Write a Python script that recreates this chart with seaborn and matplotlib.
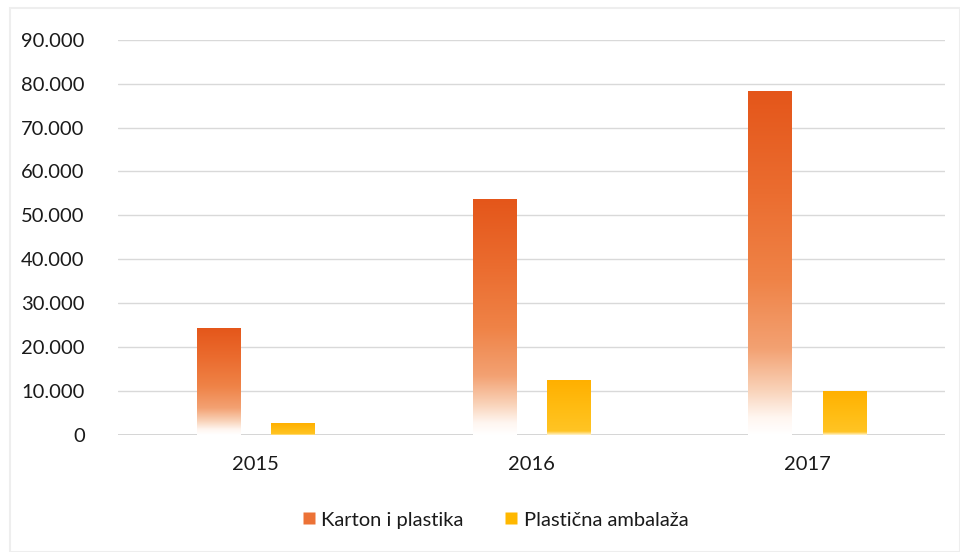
import numpy as np
import pandas as pd
import matplotlib
matplotlib.use("Agg")
import matplotlib.pyplot as plt
import seaborn as sns
from matplotlib.colors import LinearSegmentedColormap
from matplotlib.ticker import FuncFormatter
from matplotlib.lines import Line2D

years = ["2015", "2016", "2017"]
series_names = ["Karton i plastika", "Plastična ambalaža"]
karton = [24400, 53800, 78400]
plasticna = [2700, 12500, 10100]
y_ticks = [0, 10000, 20000, 30000, 40000, 50000, 60000, 70000, 80000, 90000]

df = pd.DataFrame({
    "Godina": years * 2,
    "Serija": [series_names[0]] * 3 + [series_names[1]] * 3,
    "Vrijednost": karton + plasticna,
})

sns.set_theme(style="white")
plt.rcParams["font.family"] = ["Lato", "DejaVu Sans"]

fig = plt.figure(figsize=(9.6, 5.52), dpi=100)
ax = fig.add_axes([0.123, 0.212, 0.861, 0.716])

colors = {series_names[0]: "#E85D1E", series_names[1]: "#FFB50A"}
sns.barplot(data=df, x="Godina", y="Vrijednost", hue="Serija", palette=colors,
            width=0.54, gap=0.42, ax=ax, legend=False, saturation=1, zorder=3)

ax.set_ylim(0, 90000)
ax.set_xlim(-0.5, 2.5)
ax.set_yticks(y_ticks)
ax.yaxis.set_major_formatter(FuncFormatter(lambda v, p: f"{int(v):,}".replace(",", ".")))
ax.grid(axis="y", color="#D9D9D9", linewidth=1.0, zorder=0)
ax.grid(axis="x", visible=False)
for s in ax.spines.values():
    s.set_visible(False)
ax.axhline(0, color="#D0D0D0", linewidth=1.2, zorder=2)
ax.set_xlabel("")
ax.set_ylabel("")
ax.tick_params(axis="y", labelsize=14.5, colors="#1A1A1A", length=0, pad=24)
ax.tick_params(axis="x", labelsize=14.5, colors="#1A1A1A", length=0, pad=15)

orange_cmap = LinearSegmentedColormap.from_list("or", [
    (0.0, "#FFFFFF"), (0.05, "#FFF6F0"), (0.13, "#F9D2B8"), (0.25, "#F3A172"),
    (0.45, "#EF8347"), (0.7, "#EB6D30"), (1.0, "#E4561A")])
yellow_cmap = LinearSegmentedColormap.from_list("ye", [
    (0.0, "#FFF3CC"), (0.07, "#FFC424"), (0.5, "#FFBC12"), (1.0, "#FFB000")])

grad = np.linspace(0, 1, 256).reshape(-1, 1)
patches = list(ax.patches)
n = len(years)
for i, p in enumerate(patches):
    x0, y0 = p.get_x(), p.get_y()
    w, h = p.get_width(), p.get_height()
    cmap = orange_cmap if i < n else yellow_cmap
    im = ax.imshow(grad, cmap=cmap, origin="lower", aspect="auto",
                   extent=[x0, x0 + w, y0, y0 + h], zorder=3, interpolation="bilinear")
    im.set_clip_path(p)
    p.set_facecolor("none")
    p.set_edgecolor("none")
ax.set_xlim(-0.5, 2.5)
ax.set_ylim(0, 90000)

handles = [Line2D([0], [0], marker="s", linestyle="", markersize=8,
                  markerfacecolor="#EC7236", markeredgecolor="none"),
           Line2D([0], [0], marker="s", linestyle="", markersize=8,
                  markerfacecolor="#FFB800", markeredgecolor="none")]
fig.legend(handles, series_names, loc="center", bbox_to_anchor=(0.515, 0.058),
           ncol=2, frameon=False, fontsize=14.5, handletextpad=0.2, columnspacing=2.0,
           handlelength=0.8, labelcolor="#1A1A1A")

fig.patches.append(plt.Rectangle((0.01, 0.0), 0.99, 0.985, transform=fig.transFigure,
                                 fill=False, edgecolor="#EEEEEE", linewidth=1.5))

fig.savefig("out.png", dpi=100)
